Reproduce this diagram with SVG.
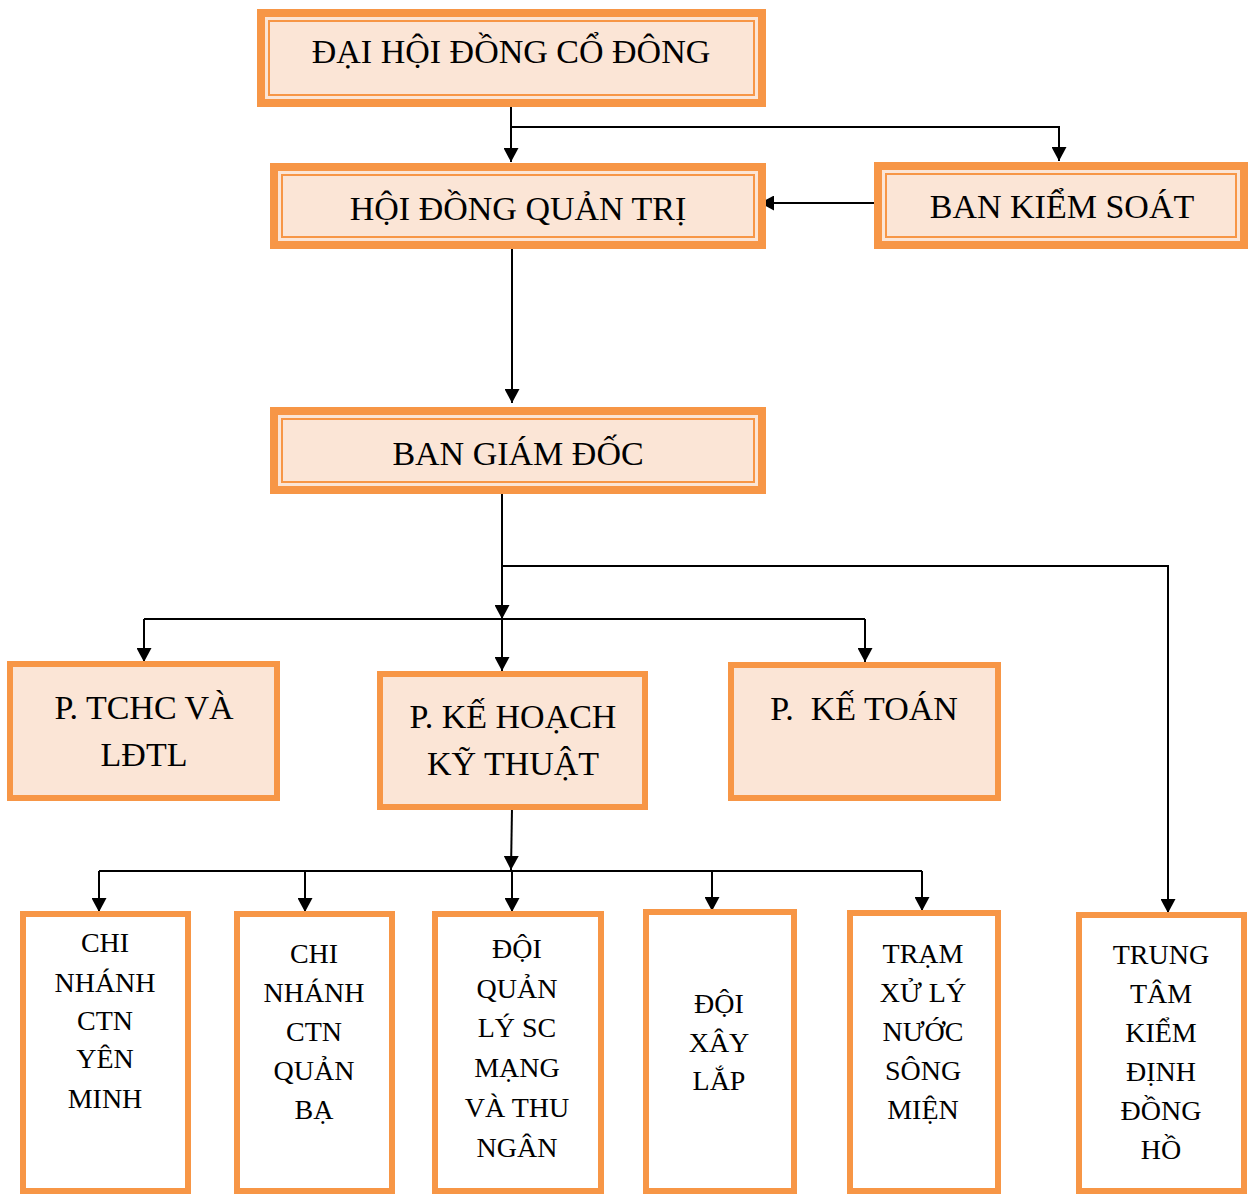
<svg xmlns="http://www.w3.org/2000/svg" width="1248" height="1194" viewBox="0 0 1248 1194">
<style>
.top{fill:#FBE5D6;stroke:#F79646;stroke-width:8}
.inner{fill:none;stroke:#F79646;stroke-width:2}
.mid{fill:#FBE5D6;stroke:#F79646;stroke-width:6}
.low{fill:#FFFFFF;stroke:#F79646;stroke-width:6}
text{font-family:"Liberation Serif","Times New Roman",serif;fill:#000;text-anchor:middle}
.t1{font-size:34px}
.t2{font-size:28px}
.c{fill:none;stroke:#000;stroke-width:2}
</style>
<defs>
<marker id="ah" markerUnits="userSpaceOnUse" markerWidth="15" markerHeight="15" refX="14" refY="7.5" orient="auto">
<path d="M0,0 L14,7.5 L0,15 z" fill="#000"/>
</marker>
</defs>
<rect width="1248" height="1194" fill="#fff"/>
<g id="connectors">
<path class="c" d="M511,107 V162" marker-end="url(#ah)"/>
<path class="c" d="M511,127 H1059 V161" marker-end="url(#ah)"/>
<path class="c" d="M882,203 H760" marker-end="url(#ah)"/>
<path class="c" d="M512,243 V403" marker-end="url(#ah)"/>
<path class="c" d="M502,488 V619" marker-end="url(#ah)"/>
<path class="c" d="M502,619 V671" marker-end="url(#ah)"/>
<path class="c" d="M502,566 H1168 V913" marker-end="url(#ah)"/>
<path class="c" d="M144,619 H865"/>
<path class="c" d="M144,619 V662" marker-end="url(#ah)"/>
<path class="c" d="M865,619 V662" marker-end="url(#ah)"/>
<path class="c" d="M512,808 L511,870" marker-end="url(#ah)"/>
<path class="c" d="M99,871 H922"/>
<path class="c" d="M99,871 V912" marker-end="url(#ah)"/>
<path class="c" d="M305,871 V912" marker-end="url(#ah)"/>
<path class="c" d="M512,871 V912" marker-end="url(#ah)"/>
<path class="c" d="M712,871 V911" marker-end="url(#ah)"/>
<path class="c" d="M922,871 V911" marker-end="url(#ah)"/>
</g>
<g id="dhdcd">
<rect class="top" x="261" y="13" width="501" height="90"/>
<rect class="inner" x="269" y="21" width="485" height="74"/>
<text class="t1" x="511" y="63">ĐẠI HỘI ĐỒNG CỔ ĐÔNG</text>
</g>
<g id="hdqt">
<rect class="top" x="274" y="167" width="488" height="78"/>
<rect class="inner" x="282" y="175" width="472" height="62"/>
<text class="t1" x="518" y="220">HỘI ĐỒNG QUẢN TRỊ</text>
</g>
<g id="bks">
<rect class="top" x="878" y="166" width="366" height="79"/>
<rect class="inner" x="886" y="174" width="350" height="63"/>
<text class="t1" x="1062" y="218">BAN KIỂM SOÁT</text>
</g>
<g id="bgd">
<rect class="top" x="274" y="411" width="488" height="79"/>
<rect class="inner" x="282" y="419" width="472" height="63"/>
<text class="t1" x="518" y="465">BAN GIÁM ĐỐC</text>
</g>
<g id="tchc">
<rect class="mid" x="10" y="664" width="267" height="134"/>
<text class="t1" x="144" y="719">P. TCHC VÀ</text>
<text class="t1" x="144" y="766">LĐTL</text>
</g>
<g id="khkt">
<rect class="mid" x="380" y="674" width="265" height="133"/>
<text class="t1" x="513" y="728">P. KẾ HOẠCH</text>
<text class="t1" x="513" y="775">KỸ THUẬT</text>
</g>
<g id="ketoan">
<rect class="mid" x="731" y="665" width="267" height="133"/>
<text class="t1" x="864" y="720" xml:space="preserve">P.  KẾ TOÁN</text>
</g>
<g id="yenminh">
<rect class="low" x="23" y="914" width="165" height="277"/>
<text class="t2" x="105" y="952">CHI</text>
<text class="t2" x="105" y="992">NHÁNH</text>
<text class="t2" x="105" y="1030">CTN</text>
<text class="t2" x="105" y="1068">YÊN</text>
<text class="t2" x="105" y="1108">MINH</text>
</g>
<g id="quanba">
<rect class="low" x="237" y="914" width="155" height="277"/>
<text class="t2" x="314" y="963">CHI</text>
<text class="t2" x="314" y="1002">NHÁNH</text>
<text class="t2" x="314" y="1041">CTN</text>
<text class="t2" x="314" y="1080">QUẢN</text>
<text class="t2" x="314" y="1119">BẠ</text>
</g>
<g id="doiql">
<rect class="low" x="435" y="914" width="166" height="277"/>
<text class="t2" x="517" y="958">ĐỘI</text>
<text class="t2" x="517" y="998">QUẢN</text>
<text class="t2" x="517" y="1037">LÝ SC</text>
<text class="t2" x="517" y="1077">MẠNG</text>
<text class="t2" x="517" y="1117">VÀ THU</text>
<text class="t2" x="517" y="1157">NGÂN</text>
</g>
<g id="xaylap">
<rect class="low" x="646" y="912" width="148" height="279"/>
<text class="t2" x="719" y="1013">ĐỘI</text>
<text class="t2" x="719" y="1052">XÂY</text>
<text class="t2" x="719" y="1090">LẮP</text>
</g>
<g id="tram">
<rect class="low" x="850" y="913" width="148" height="278"/>
<text class="t2" x="923" y="963">TRẠM</text>
<text class="t2" x="923" y="1002">XỬ LÝ</text>
<text class="t2" x="923" y="1041">NƯỚC</text>
<text class="t2" x="923" y="1080">SÔNG</text>
<text class="t2" x="923" y="1119">MIỆN</text>
</g>
<g id="trungtam">
<rect class="low" x="1079" y="915" width="165" height="276"/>
<text class="t2" x="1161" y="964">TRUNG</text>
<text class="t2" x="1161" y="1003">TÂM</text>
<text class="t2" x="1161" y="1042">KIỂM</text>
<text class="t2" x="1161" y="1081">ĐỊNH</text>
<text class="t2" x="1161" y="1120">ĐỒNG</text>
<text class="t2" x="1161" y="1159">HỒ</text>
</g>
</svg>
